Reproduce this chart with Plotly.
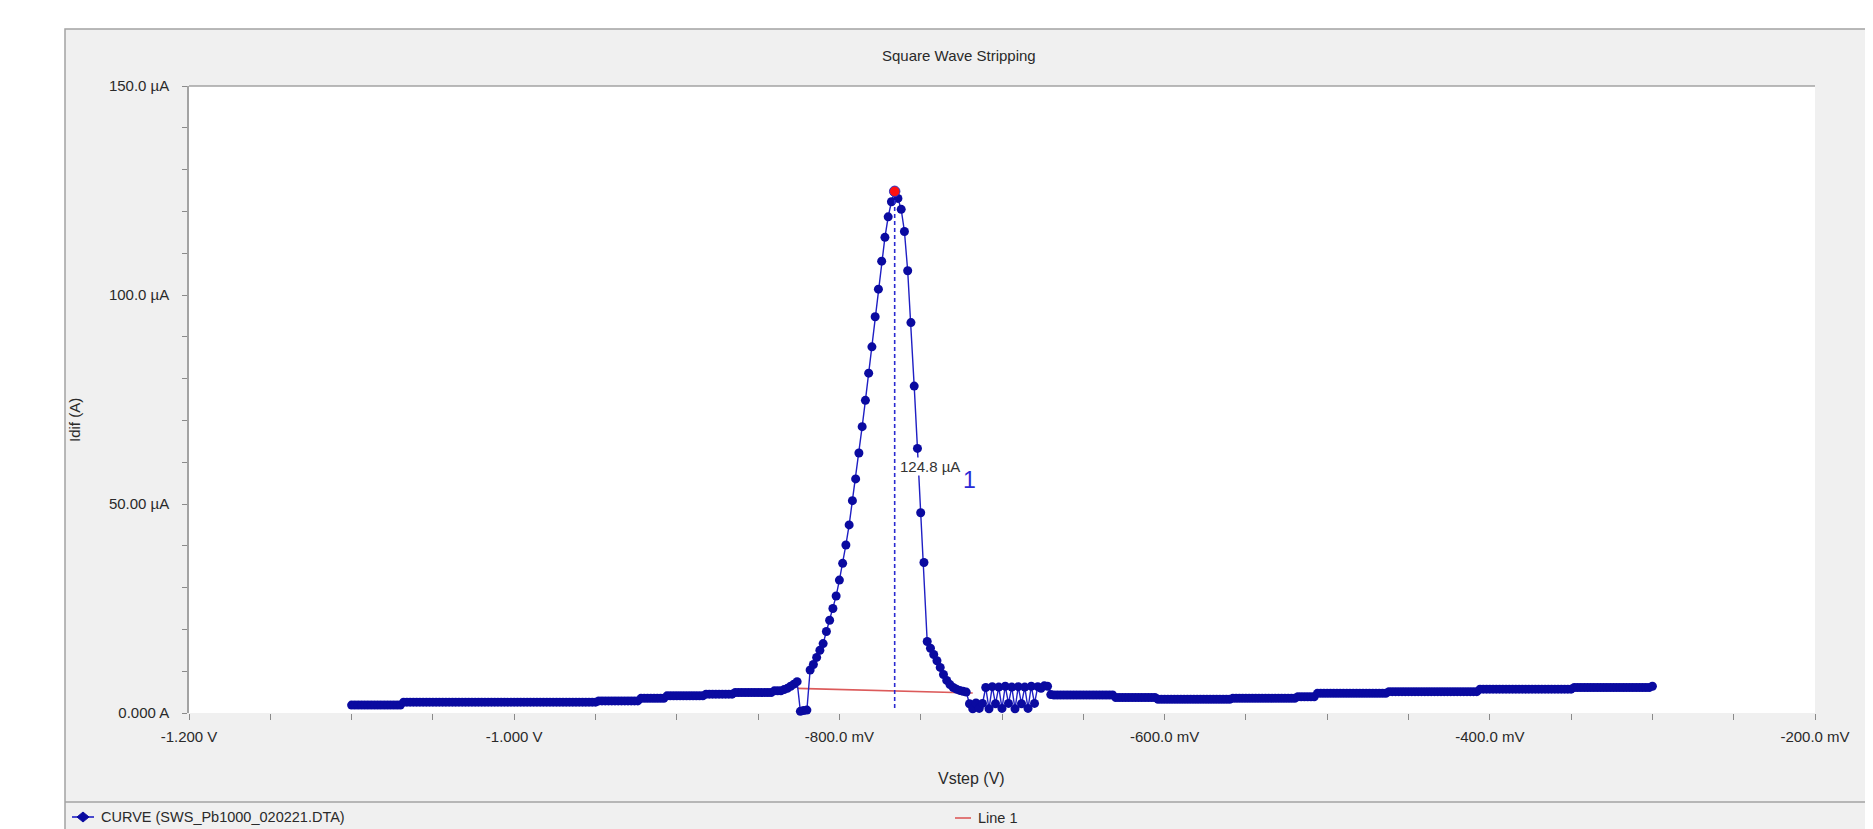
import plotly.graph_objects as go

# ---------------- data ----------------
V_START = -1.100          # first potential step, V
V_STEP = 0.002            # potential increment, V

# differential current, µA, one value per potential step (-1.100 V ... -0.300 V)
BASE_LEFT_UA = [
    # -1.100 .. -1.070
    1.9, 1.9, 1.9, 1.9, 1.9, 1.9, 1.9, 1.9, 1.9, 1.9,
    1.9, 1.9, 1.9, 1.9, 1.9, 1.9,
    # -1.068 .. -0.950
    2.6, 2.6, 2.6, 2.6, 2.6, 2.6, 2.6, 2.6, 2.6, 2.6,
    2.6, 2.6, 2.6, 2.6, 2.6, 2.6, 2.6, 2.6, 2.6, 2.6,
    2.6, 2.6, 2.6, 2.6, 2.6, 2.6, 2.6, 2.6, 2.6, 2.6,
    2.6, 2.6, 2.6, 2.6, 2.6, 2.6, 2.6, 2.6, 2.6, 2.6,
    2.6, 2.6, 2.6, 2.6, 2.6, 2.6, 2.6, 2.6, 2.6, 2.6,
    2.6, 2.6, 2.6, 2.6, 2.6, 2.6, 2.6, 2.6, 2.6, 2.6,
    # -0.948 .. -0.924
    2.9, 2.9, 2.9, 2.9, 2.9, 2.9, 2.9, 2.9, 2.9, 2.9,
    2.9, 2.9, 2.9,
    # -0.922 .. -0.908
    3.5, 3.5, 3.5, 3.5, 3.5, 3.5, 3.5, 3.5,
    # -0.906 .. -0.884
    4.1, 4.1, 4.1, 4.1, 4.1, 4.1, 4.1, 4.1, 4.1, 4.1,
    4.1, 4.1,
    # -0.882 .. -0.866
    4.5, 4.5, 4.5, 4.5, 4.5, 4.5, 4.5, 4.5, 4.5,
    # -0.864 .. -0.842
    4.9, 4.9, 4.9, 4.9, 4.9, 4.9, 4.9, 4.9, 4.9, 4.9,
    4.9, 4.9,
    # -0.840 .. -0.836
    5.3, 5.3, 5.3,
]
PEAK_REGION_UA = [
    # -0.834 .. -0.826
    5.6, 5.9, 6.4, 6.9, 7.5,
    # -0.824 .. -0.820 (dip)
    0.4, 0.6, 0.7,
    # -0.818 .. -0.768
    10.3, 11.6, 13.3, 15.0, 16.6, 19.5, 22.2, 25.0, 28.0, 31.8,
    35.8, 40.2, 45.0, 50.8, 56.0, 62.2, 68.5, 74.8, 81.3, 87.6,
    94.8, 101.4, 108.1, 113.8, 118.7, 122.3,
    # -0.766 (peak)
    124.8,
    # -0.764 .. -0.722
    123.1, 120.5, 115.2, 105.8, 93.4, 78.2, 63.3, 47.9, 36.0, 17.1,
    15.5, 14.0, 12.5, 10.9, 9.2, 7.8, 6.8, 6.1, 5.7, 5.4,
    5.2, 5.0,
    # -0.720 .. -0.672 (oscillating section)
    2.2, 1.0, 2.4, 1.1, 2.3, 6.1, 1.0, 6.3, 2.2, 6.2,
    1.1, 6.4, 2.3, 6.2, 1.0, 6.3, 2.2, 6.2, 1.1, 6.4,
    2.3, 6.3, 5.9, 6.5, 6.4,
]
BASE_RIGHT_UA = [
    # -0.670
    4.4,
    # -0.668 .. -0.632
    4.3, 4.3, 4.3, 4.3, 4.3, 4.3, 4.3, 4.3, 4.3, 4.3,
    4.3, 4.3, 4.3, 4.3, 4.3, 4.3, 4.3, 4.3, 4.3,
    # -0.630 .. -0.606
    3.7, 3.7, 3.7, 3.7, 3.7, 3.7, 3.7, 3.7, 3.7, 3.7,
    3.7, 3.7, 3.7,
    # -0.604 .. -0.560
    3.3, 3.3, 3.3, 3.3, 3.3, 3.3, 3.3, 3.3, 3.3, 3.3,
    3.3, 3.3, 3.3, 3.3, 3.3, 3.3, 3.3, 3.3, 3.3, 3.3,
    3.3, 3.3, 3.3,
    # -0.558 .. -0.520
    3.5, 3.5, 3.5, 3.5, 3.5, 3.5, 3.5, 3.5, 3.5, 3.5,
    3.5, 3.5, 3.5, 3.5, 3.5, 3.5, 3.5, 3.5, 3.5, 3.5,
    # -0.518 .. -0.508
    3.9, 3.9, 3.9, 3.9, 3.9, 3.9,
    # -0.506 .. -0.464
    4.7, 4.7, 4.7, 4.7, 4.7, 4.7, 4.7, 4.7, 4.7, 4.7,
    4.7, 4.7, 4.7, 4.7, 4.7, 4.7, 4.7, 4.7, 4.7, 4.7,
    4.7, 4.7,
    # -0.462 .. -0.408
    5.1, 5.1, 5.1, 5.1, 5.1, 5.1, 5.1, 5.1, 5.1, 5.1,
    5.1, 5.1, 5.1, 5.1, 5.1, 5.1, 5.1, 5.1, 5.1, 5.1,
    5.1, 5.1, 5.1, 5.1, 5.1, 5.1, 5.1, 5.1,
    # -0.406 .. -0.350
    5.7, 5.7, 5.7, 5.7, 5.7, 5.7, 5.7, 5.7, 5.7, 5.7,
    5.7, 5.7, 5.7, 5.7, 5.7, 5.7, 5.7, 5.7, 5.7, 5.7,
    5.7, 5.7, 5.7, 5.7, 5.7, 5.7, 5.7, 5.7, 5.7,
    # -0.348 .. -0.302
    6.1, 6.1, 6.1, 6.1, 6.1, 6.1, 6.1, 6.1, 6.1, 6.1,
    6.1, 6.1, 6.1, 6.1, 6.1, 6.1, 6.1, 6.1, 6.1, 6.1,
    6.1, 6.1, 6.1, 6.1,
    # -0.300
    6.4,
]
I_UA = BASE_LEFT_UA + PEAK_REGION_UA + BASE_RIGHT_UA
V = [round(V_START + V_STEP * k, 3) for k in range(len(I_UA))]

PEAK_V = [-0.766]
PEAK_I = [124.8]
PEAK_LABEL = "124.8 µA"
PEAK_NUMBER = "1"
DROP_V = [-0.766, -0.766]
DROP_I = [1.2, 124.8]

LINE1_V = [-0.826, -0.718]
LINE1_I = [5.9, 4.8]

XTICK_VALS = [-1.2, -1.0, -0.8, -0.6, -0.4, -0.2]
XTICK_TEXT = ["-1.200 V", "-1.000 V", "-800.0 mV", "-600.0 mV", "-400.0 mV", "-200.0 mV"]
YTICK_VALS = [0, 50, 100, 150]
YTICK_TEXT = ["0.000 A", "50.00 µA", "100.0 µA", "150.0 µA"]

TITLE = "Square Wave Stripping"
X_TITLE = "Vstep (V)"
Y_TITLE = "Idif (A)"
CURVE_NAME = "CURVE (SWS_Pb1000_020221.DTA)"
LINE1_NAME = "Line 1"

# ---------------- layout geometry (page pixels) ----------------
PAGE_OFF = 8                      # default body margin of the html page
W, H = 1873 - PAGE_OFF, 829 - PAGE_OFF
L, R, T, B = 189, 1815, 86, 713   # plot area, page pixels
XMIN, XMAX = -1.2, -0.2
YMIN, YMAX = 0.0, 150.0


def px(xp):
    return (xp - L) / (R - L)


def py(yp):
    return (B - yp) / (B - T)


FONT = "Liberation Sans, Arial, sans-serif"
TXT = "#2a2a2a"
GRAYLINE = "#a3a3a3"
PANEL = "#f0f0f0"
CURVE_MARK = "#0a0aa0"
CURVE_LINE = "#1f1fc4"
LINE1_COLOR = "#dc5a5a"
LEGEND_Y = 817

fig = go.Figure()

fig.add_trace(go.Scatter(
    x=LINE1_V, y=LINE1_I, mode="lines", name=LINE1_NAME,
    line=dict(color=LINE1_COLOR, width=1.6), cliponaxis=False,
))
fig.add_trace(go.Scatter(
    x=V, y=I_UA, mode="lines+markers", name=CURVE_NAME,
    line=dict(color=CURVE_LINE, width=1.4),
    marker=dict(color=CURVE_MARK, size=9, line=dict(width=0)),
    cliponaxis=False,
))
fig.add_trace(go.Scatter(
    x=DROP_V, y=DROP_I, mode="lines",
    line=dict(color="#2a2ad0", width=1.6, dash="4px,3px"),
))
fig.add_trace(go.Scatter(
    x=PEAK_V, y=PEAK_I, mode="markers",
    marker=dict(color="#ff1010", size=10.5, line=dict(color="#3030c0", width=1)),
    cliponaxis=False,
))

shapes = [
    # white margins outside the panel
    dict(type="rect", xref="paper", yref="paper", x0=px(-20), x1=px(1900), y0=py(-20), y1=py(29),
         fillcolor="white", line=dict(width=0), layer="below"),
    dict(type="rect", xref="paper", yref="paper", x0=px(-20), x1=px(65), y0=py(-20), y1=py(850),
         fillcolor="white", line=dict(width=0), layer="below"),
    dict(type="rect", xref="paper", yref="paper", x0=px(1868), x1=px(1900), y0=py(-20), y1=py(850),
         fillcolor="white", line=dict(width=0), layer="below"),
    # panel border
    dict(type="rect", xref="paper", yref="paper", x0=px(65), x1=px(1868), y0=py(29), y1=py(840),
         line=dict(color=GRAYLINE, width=1.5)),
    # legend separator
    dict(type="line", xref="paper", yref="paper", x0=px(65), x1=px(1868), y0=py(802), y1=py(802),
         line=dict(color=GRAYLINE, width=1.5)),
    # plot top border
    dict(type="line", xref="paper", yref="paper", x0=0, x1=1, y0=1, y1=1,
         line=dict(color=GRAYLINE, width=1.5)),
    # legend symbols
    dict(type="line", xref="paper", yref="paper", x0=px(72), x1=px(94), y0=py(LEGEND_Y),
         y1=py(LEGEND_Y), line=dict(color=CURVE_LINE, width=1.6)),
    dict(type="path", xref="paper", yref="paper", xsizemode="pixel", ysizemode="pixel",
         xanchor=px(83), yanchor=py(LEGEND_Y), path="M -6 0 L 0 5 L 6 0 L 0 -5 Z",
         fillcolor=CURVE_MARK, line=dict(color=CURVE_MARK, width=1)),
    dict(type="line", xref="paper", yref="paper", x0=px(955), x1=px(971), y0=py(LEGEND_Y + 1),
         y1=py(LEGEND_Y + 1), line=dict(color=LINE1_COLOR, width=1.6)),
]

annotations = [
    dict(text=TITLE, xref="paper", yref="paper", x=px(959), y=py(56), showarrow=False,
         font=dict(family=FONT, size=15, color=TXT), xanchor="center", yanchor="middle"),
    dict(text=Y_TITLE, xref="paper", yref="paper", x=px(74), y=py(420), showarrow=False,
         textangle=-90, font=dict(family=FONT, size=15, color=TXT), xanchor="center", yanchor="middle"),
    dict(text=X_TITLE, xref="paper", yref="paper", x=px(971), y=py(779), showarrow=False,
         font=dict(family=FONT, size=16, color=TXT), xanchor="center", yanchor="middle"),
    dict(text=PEAK_LABEL, x=-0.7445, y=59.0, xref="x", yref="y", showarrow=False,
         font=dict(family=FONT, size=15, color="#333333"), bgcolor="white",
         xanchor="center", yanchor="middle", borderpad=0),
    dict(text=PEAK_NUMBER, x=-0.7197, y=55.7, xref="x", yref="y", showarrow=False,
         font=dict(family=FONT, size=23, color="#2a2ad6"), xanchor="center", yanchor="middle"),
    # legend texts
    dict(text=CURVE_NAME, xref="paper", yref="paper", x=px(99), y=py(LEGEND_Y), showarrow=False,
         font=dict(family=FONT, size=14.5, color=TXT), xanchor="left", yanchor="middle"),
    dict(text=LINE1_NAME, xref="paper", yref="paper", x=px(976), y=py(LEGEND_Y + 1), showarrow=False,
         font=dict(family=FONT, size=14.5, color=TXT), xanchor="left", yanchor="middle"),
]

fig.update_layout(
    width=W, height=H, autosize=False,
    margin=dict(l=L - PAGE_OFF, r=W - (R - PAGE_OFF), t=T - PAGE_OFF, b=H - (B - PAGE_OFF), pad=0),
    paper_bgcolor=PANEL, plot_bgcolor="white",
    font=dict(family=FONT, size=15, color=TXT),
    shapes=shapes, annotations=annotations,
    showlegend=False,
    xaxis=dict(range=[XMIN, XMAX], tickmode="array", tickvals=XTICK_VALS, ticktext=XTICK_TEXT,
               ticks="outside", ticklen=6, tickcolor="#8a8a8a", showgrid=False, zeroline=False,
               showline=False, ticklabelstandoff=4,
               tickfont=dict(family=FONT, size=15, color=TXT),
               minor=dict(tickmode="linear", tick0=-1.2, dtick=0.05, ticks="outside",
                          ticklen=6, tickcolor="#8a8a8a", showgrid=False)),
    yaxis=dict(range=[YMIN, YMAX], tickmode="array", tickvals=YTICK_VALS, ticktext=YTICK_TEXT,
               ticks="outside", ticklen=5, tickcolor="#8a8a8a", showgrid=False, zeroline=False,
               showline=True, linecolor=GRAYLINE, linewidth=1.5, ticklabelstandoff=10,
               tickfont=dict(family=FONT, size=15, color=TXT),
               minor=dict(tickmode="linear", tick0=0, dtick=10, ticks="outside",
                          ticklen=5, tickcolor="#8a8a8a", showgrid=False)),
)

fig.write_html("out.html")
